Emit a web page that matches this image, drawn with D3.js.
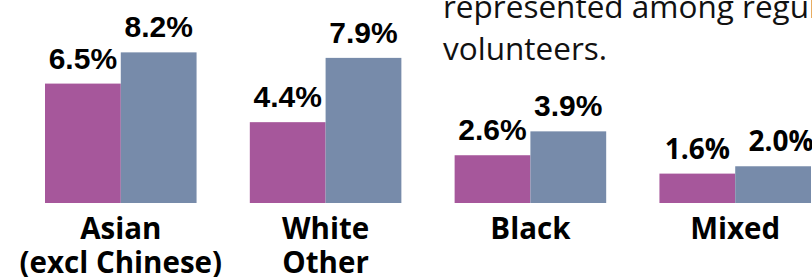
<!DOCTYPE html>
<html>
<head>
<meta charset="utf-8">
<script src="https://cdn.jsdelivr.net/npm/d3@7"></script>
<style>
  html, body { margin: 0; padding: 0; background: #fff; overflow: hidden; }
  svg { display: block; }
</style>
</head>
<body>
<svg id="chart" width="812" height="277"></svg>
<script>
// ---- data ----
const categories = ["Asian (excl Chinese)", "White Other", "Black", "Mixed"];
const categoryLines = [["Asian", "(excl Chinese)"], ["White", "Other"], ["Black"], ["Mixed"]];
const seriesNames = ["Regular volunteers", "Population"];
const regularValues = [6.5, 4.4, 2.6, 1.6];
const populationValues = [8.2, 7.9, 3.9, 2.0];
const noteLines = ["represented among regular", "volunteers."];

const colors = ["#a6579b", "#778baa"];

const svg = d3.select("#chart");

const x0 = d3.scaleBand().domain(categories).range([45, 811]).paddingInner(0.26).paddingOuter(0);
const x1 = d3.scaleBand().domain(seriesNames).range([0, x0.bandwidth()]).padding(0);
const y = d3.scaleLinear().domain([0, 10]).range([203, 19.3]);

const rows = categories.map((c, i) => ({
  cat: c,
  vals: [
    { s: seriesNames[0], v: regularValues[i] },
    { s: seriesNames[1], v: populationValues[i] }
  ]
}));

const g = svg.append("g");
const groups = g.selectAll("g.grp").data(rows).join("g")
  .attr("class", "grp")
  .attr("transform", d => `translate(${x0(d.cat)},0)`);

groups.selectAll("rect").data(d => d.vals).join("rect")
  .attr("x", d => x1(d.s))
  .attr("width", x1.bandwidth())
  .attr("y", d => y(d.v))
  .attr("height", d => y(0) - y(d.v))
  .attr("fill", (d, i) => colors[i]);

groups.selectAll("text.val").data((d, gi) => d.vals.map(v => ({...v, gi}))).join("text")
  .attr("class", "val")
  .attr("x", d => x1(d.s) + x1.bandwidth() / 2 + (d.gi === 3 && d.s === seriesNames[1] ? 8 : 0))
  .attr("y", d => y(d.v) - 15)
  .attr("text-anchor", "middle")
  .attr("font-family", d => d.gi === 3 ? "'Open Sans', sans-serif" : "'Liberation Sans', Arial, sans-serif")
  .attr("font-weight", "bold")
  .attr("font-size", d => d.gi === 3 ? 28 : 30)
  .attr("fill", "#000")
  .text(d => d.v.toFixed(1) + "%");

// category labels
groups.each(function(d, i) {
  const t = d3.select(this).append("text")
    .attr("x", x0.bandwidth() / 2)
    .attr("y", 238.5)
    .attr("text-anchor", "middle")
    .attr("font-family", "'Open Sans', sans-serif")
    .attr("font-weight", "bold")
    .attr("font-size", 29.5)
    .attr("fill", "#000");
  categoryLines[i].forEach((ln, k) => {
    t.append("tspan").attr("x", x0.bandwidth() / 2).attr("dy", k === 0 ? 0 : 34).text(ln);
  });
});

// paragraph text (cut off at the right edge)
const note = svg.append("text")
  .attr("x", 443)
  .attr("y", 18)
  .attr("font-family", "'Open Sans', sans-serif")
  .attr("font-size", 31.5)
  .attr("fill", "#111");
noteLines.forEach((ln, k) => {
  note.append("tspan").attr("x", 443).attr("dy", k === 0 ? 0 : 41.5).text(ln);
});
</script>
</body>
</html>
